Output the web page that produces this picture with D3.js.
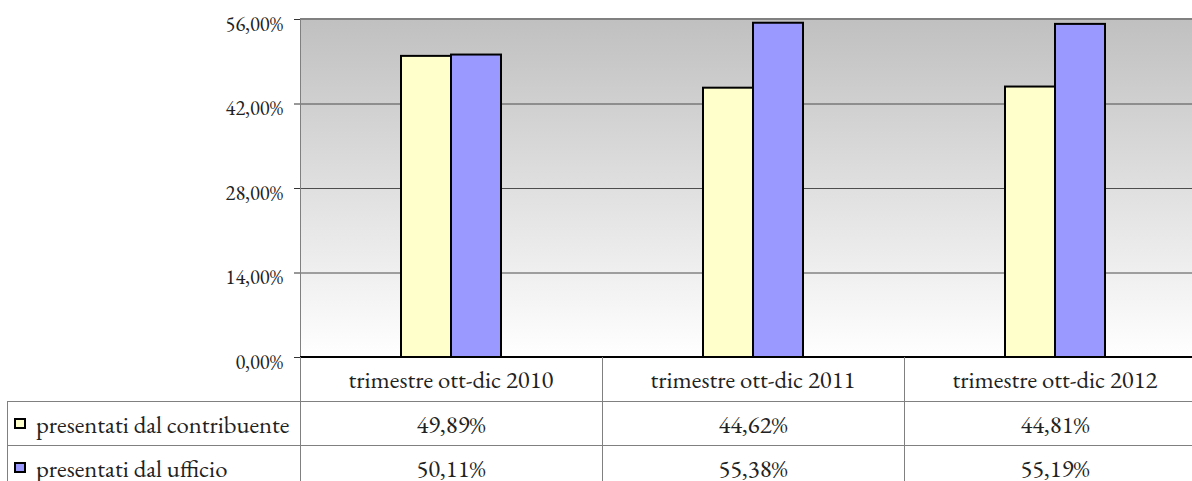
<!DOCTYPE html>
<html><head><meta charset="utf-8">
<script src="https://cdn.jsdelivr.net/npm/d3@7"></script>
<style>body{margin:0;background:#fff}svg{display:block}</style>
</head><body>
<script>
const categories = ["trimestre ott-dic 2010","trimestre ott-dic 2011","trimestre ott-dic 2012"];
const seriesNames = ["presentati dal contribuente","presentati dal ufficio"];
const contribuente = [49.89, 44.62, 44.81];
const ufficio = [50.11, 55.38, 55.19];
const yTicks = [0,14,28,42,56];
const colors = ["#ffffcc","#9999ff"];

(function(){
const W=1192,H=481;
const pLeft=300, pTop=19, pBottom=357, catW=302;
const FONT='"EB Garamond"';
const svg=d3.select("body").append("svg").attr("width",W).attr("height",H);

const probe=svg.append("text").style("font-family",FONT).attr("font-size",20).text(categories[0]);
const pw=probe.node().getComputedTextLength();
probe.remove();
const fs=Math.round(20*205/pw*10)/10;
const tfs=Math.round(fs*0.83*10)/10;

const x=d3.scaleBand().domain(categories).range([pLeft,pLeft+catW*3]).paddingInner(0).paddingOuter(0);
const xs=d3.scaleBand().domain(seriesNames).range([0,x.bandwidth()]).paddingInner(0).paddingOuter(2.02);
const y=d3.scaleLinear().domain([0,56]).range([pBottom,pTop]);

const defs=svg.append("defs");
const g=defs.append("linearGradient").attr("id","bg").attr("x1",0).attr("y1",0).attr("x2",0).attr("y2",1);
g.append("stop").attr("offset","0%").attr("stop-color","#c0c0c0");
g.append("stop").attr("offset","100%").attr("stop-color","#ffffff");

svg.append("rect").attr("x",pLeft).attr("y",pTop).attr("width",catW*3).attr("height",pBottom-pTop).attr("fill","url(#bg)");

svg.selectAll("line.grid").data(yTicks.filter(d=>d>0&&d<56)).join("line").attr("class","grid")
  .attr("x1",pLeft).attr("x2",pLeft+catW*3).attr("y1",d=>y(d)+0.5).attr("y2",d=>y(d)+0.5)
  .attr("stroke","#4d4d4d").attr("stroke-width",1);
svg.append("line").attr("x1",pLeft).attr("x2",W+20).attr("y1",pTop).attr("y2",pTop).attr("stroke","#808080").attr("stroke-width",2);

const yAxis=d3.axisLeft(y).tickValues(yTicks).tickSize(6).tickPadding(11)
  .tickFormat(d=>d3.format(".2f")(d).replace(".",",")+"%");
const ya=svg.append("g").attr("transform",`translate(${pLeft},0)`).call(yAxis);
ya.attr("font-family",null).attr("font-size",null);
ya.select(".domain").attr("stroke","#808080");
ya.selectAll(".tick line").attr("stroke","#333");
ya.selectAll("text").style("font-family",FONT).attr("font-size",tfs).attr("fill","#222").attr("dy","0.55em");

const data=[contribuente,ufficio];
categories.forEach((c,i)=>{
  seriesNames.forEach((s,j)=>{
    const v=data[j][i];
    svg.append("rect").attr("x",x(c)+xs(s)).attr("y",y(v)).attr("width",xs.bandwidth()).attr("height",y(0)-y(v))
      .attr("fill",colors[j]).attr("stroke","#000").attr("stroke-width",2);
  });
});

svg.append("line").attr("x1",pLeft).attr("x2",W+20).attr("y1",pBottom).attr("y2",pBottom).attr("stroke","#000").attr("stroke-width",2);

const rowH=44, tableLeft=7;
const rows=[pBottom, pBottom+rowH, pBottom+2*rowH, pBottom+3*rowH];
const lc="#808080";
[rows[1],rows[2]].forEach(r=>svg.append("line").attr("x1",tableLeft).attr("x2",W).attr("y1",r+0.5).attr("y2",r+0.5).attr("stroke",lc));
svg.append("line").attr("x1",tableLeft+0.5).attr("x2",tableLeft+0.5).attr("y1",rows[1]).attr("y2",H).attr("stroke",lc);
categories.forEach((c,i)=>{
  const xx=x(c)+0.5;
  svg.append("line").attr("x1",xx).attr("x2",xx).attr("y1",pBottom).attr("y2",H).attr("stroke",lc);
});

const txt=(xx,yy,t,anchor)=>svg.append("text").attr("x",xx).attr("y",yy).attr("text-anchor",anchor)
  .style("font-family",FONT).attr("font-size",fs).attr("fill","#222").text(t);
categories.forEach((c,i)=>{
  const cx=x(c)+x.bandwidth()/2;
  txt(cx,rows[0]+31,c,"middle");
  data.forEach((arr,j)=>txt(cx,rows[j+1]+32,d3.format(".2f")(arr[i]).replace(".",",")+"%","middle"));
});
seriesNames.forEach((s,j)=>{
  svg.append("rect").attr("x",15).attr("y",rows[j+1]+18).attr("width",10).attr("height",9)
    .attr("fill",colors[j]).attr("stroke","#000").attr("stroke-width",2);
  txt(36,rows[j+1]+32,s,"start");
});
})();
</script>
</body></html>
